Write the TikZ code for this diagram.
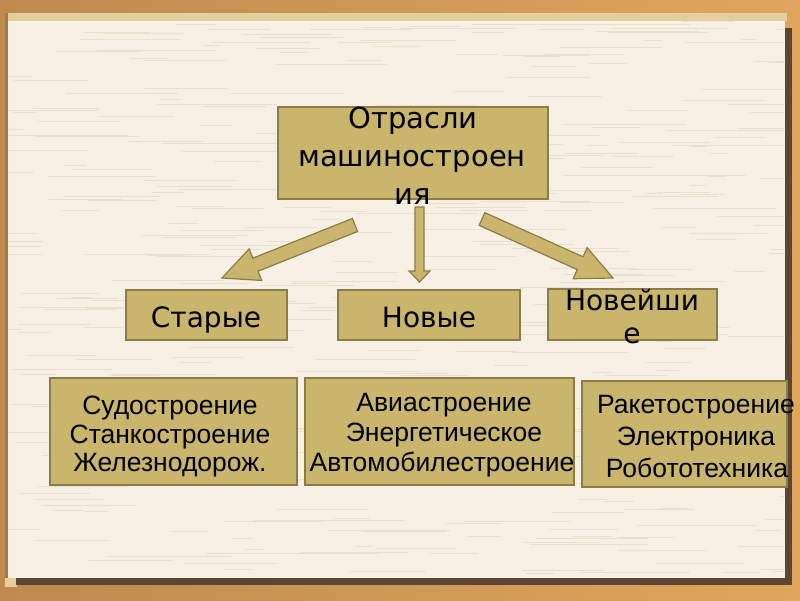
\documentclass[tikz,border=0pt]{standalone}
\usepackage{fontspec}
\setmainfont{DejaVu Sans}
\newfontfamily\dejaf{DejaVu Sans}
\newfontfamily\arialf{Liberation Sans}
\usetikzlibrary{calc}

\definecolor{boxfill}{HTML}{C9B56B}
\definecolor{boxline}{HTML}{8C7C48}
\definecolor{paper}{HTML}{F7F0E4}
\definecolor{streakc}{HTML}{ECE1CE}
\definecolor{frameL}{HTML}{BE8A4E}
\definecolor{frameR}{HTML}{E0A65C}
\definecolor{shadowc}{HTML}{5B4634}
\definecolor{stripc}{HTML}{E6CF9F}
\definecolor{edgec}{HTML}{9C7C4E}

\newcommand\blockarrow[5]{%
  \coordinate (#1-n) at ($(#2)!#5!(#1)$);
  \draw[arrowbody] ($(#1)!#3!90:(#2)$) -- ($(#1-n)!#3!90:(#2)$)
    -- ($(#1-n)!#4!90:(#2)$) -- (#2) -- ($(#1-n)!#4!-90:(#2)$)
    -- ($(#1-n)!#3!-90:(#2)$) -- ($(#1)!#3!-90:(#2)$) -- cycle;
}

\begin{document}
\begin{tikzpicture}[x=1pt,y=-1pt,
  box/.style={draw=boxline, line width=2pt, fill=boxfill, inner sep=0pt, outer sep=0pt},
  arrowbody/.style={draw=boxline, line width=1.2pt, fill=boxfill, line join=miter},
  lbl/.style={inner sep=0pt, anchor=base, text=black},
  big/.style={font=\dejaf\fontsize{29}{34}\selectfont},
  mid/.style={font=\dejaf\fontsize{28}{33}\selectfont},
  small/.style={font=\arialf\fontsize{26.5}{30}\selectfont},
  streak/.style={draw=streakc, line width=0.6pt}
]
\useasboundingbox (0,0) rectangle (800,600);
% frame
\shade[left color=frameL, right color=frameR] (0,0) rectangle (800,600);
\fill[stripc] (5,13) rectangle (787,21);
\fill[edgec] (5,13) rectangle (8,580);
\fill[stripc] (5,578) -- (17,578) -- (17,587) -- (5,587) -- cycle;
\fill[shadowc] (16,28) rectangle (792,585);
\fill[paper] (8,21) rectangle (785,578);
\begin{scope}
  \clip (8,21) rectangle (785,578);
  \pgfmathsetseed{11}
  \foreach \i in {1,...,420}{
    \pgfmathsetmacro\yy{21+rnd*557}
    \pgfmathsetmacro\xa{rnd*780}
    \pgfmathsetmacro\ll{15+rnd*110}
    \draw[streak] (\xa,\yy) -- ++(\ll,0);
  }
\end{scope}

% boxes
\node[box, minimum width=270pt, minimum height=92pt] (top) at (413,153) {};
\node[box, minimum width=161pt, minimum height=50pt] (old) at (206.5,315) {};
\node[box, minimum width=182pt, minimum height=50pt] (new) at (429,315) {};
\node[box, minimum width=169pt, minimum height=51pt] (newest) at (632.5,314.5) {};
\node[box, minimum width=247pt, minimum height=107pt] (oldl) at (173.5,431) {};
\node[box, minimum width=269pt, minimum height=107pt] (newl) at (439,431.5) {};
\node[box, minimum width=205pt, minimum height=106pt] (newestl) at (684.5,433.5) {};

% texts
\node[lbl, big] (top1) at (413,128) {Отрасли};
\node[lbl, big] (top2) at (412,166) {машиностроен};
\node[lbl, big] (top3) at (413,204) {ия};

\node[lbl, mid] (oldt) at (206,327) {Старые};
\node[lbl, mid] (newt) at (429,327) {Новые};
\node[lbl, mid] (newestt1) at (632,310) {Новейши};
\node[lbl, mid] (newestt2) at (632,343) {е};

\node[lbl, small] (ol1) at (170,414) {Судостроение};
\node[lbl, small] (ol2) at (170,443) {Станкостроение};
\node[lbl, small] (ol3) at (170,471) {Железнодорож.};

\node[lbl, small] (nl1) at (444,411) {Авиастроение};
\node[lbl, small] (nl2) at (444,441) {Энергетическое};
\node[lbl, small] (nl3) at (442,471) {Автомобилестроение};

\node[lbl, small] (rl1) at (696,413) {Ракетостроение};
\node[lbl, small] (rl2) at (696,445) {Электроника};
\node[lbl, small] (rl3) at (697,477) {Робототехника};

% arrows
\coordinate (la) at (355,225);
\coordinate (lb) at (222,278);
\coordinate (ma) at (419.5,207);
\coordinate (mb) at (419.5,282);
\coordinate (ra) at (482,219);
\coordinate (rb) at (613,278);
\blockarrow{la}{lb}{7pt}{17pt}{36pt}
\blockarrow{ma}{mb}{4.5pt}{10.5pt}{11pt}
\blockarrow{ra}{rb}{7pt}{17pt}{36pt}
\end{tikzpicture}
\end{document}
